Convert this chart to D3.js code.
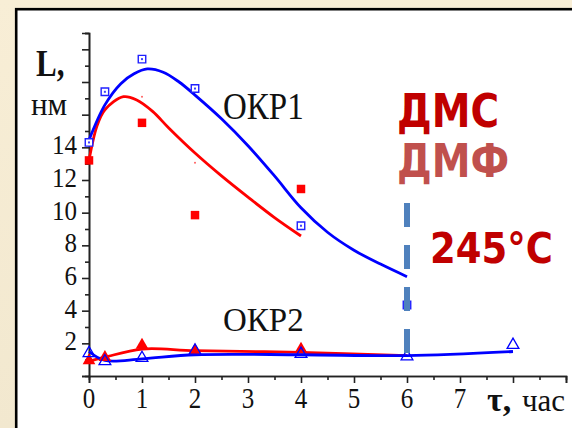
<!DOCTYPE html>
<html lang="ru">
<head>
<meta charset="utf-8">
<title>L(τ) ОКР1 / ОКР2</title>
<script src="https://cdn.jsdelivr.net/npm/d3@7"></script>
<style>
  body { margin: 0; background: #f6ecd3; }
  .axis path, .axis line { stroke: #222; stroke-width: 1.6; }
  .serif { font-family: "Liberation Serif", "Times New Roman", serif; fill: #111; }
  .sans { font-family: "DejaVu Sans", Verdana, sans-serif; font-weight: bold; }
</style>
</head>
<body>
<script>
// ---- data ----
// OKP1, blue open squares and fitted curve
var blueSqX = [0, 0.3, 1, 2, 4, 6];
var blueSqY = [14.3, 17.4, 19.4, 17.6, 9.2, 4.35];
var blueFitX = [0, 0.3, 0.6, 0.85, 1.1, 1.4, 1.7, 2, 2.5, 3, 3.5, 4, 4.5, 5, 5.5, 6];
var blueFitY = [14.45, 16.6, 17.9, 18.5, 18.8, 18.6, 18.0, 17.2, 15.75, 14.1, 12.25, 10.3, 8.8, 7.7, 6.85, 6.08];

// OKP1, red filled squares and fitted curve
var redSqX = [0, 1, 2, 4];
var redSqY = [13.2, 15.5, 9.85, 11.45];
var redDotX = [1, 2];
var redDotY = [17.1, 13.05];
var redFitX = [0, 0.15, 0.3, 0.65, 0.9, 1.2, 1.5, 2, 2.5, 3, 3.5, 4];
var redFitY = [13.2, 15.3, 16.3, 17.1, 16.9, 16.2, 15.2, 13.65, 12.25, 10.95, 9.7, 8.57];

// OKP2
var blueTriX = [0, 0.3, 1, 2, 4, 6, 8];
var blueTriY = [1.4, 0.9, 1.1, 1.55, 1.35, 1.2, 1.9];
var blueFit2Y = [1.5, 0.95, 1.05, 1.3, 1.3, 1.25, 1.5];
var redTriX = [0, 0.3, 1, 2, 4];
var redTriY = [0.95, 1.15, 1.9, 1.55, 1.65];
var redFit2X = [0, 0.3, 1, 2, 4, 6];
var redFit2Y = [0.9, 1.15, 1.65, 1.55, 1.45, 1.25];

var xTicks = [0, 1, 2, 3, 4, 5, 6, 7];
var yTicks = [2, 4, 6, 8, 10, 12, 14];
var markX = 6;

// ---- layout ----
var W = 572, H = 428;
var svg = d3.select("body").append("svg")
    .attr("width", W)
    .attr("height", H);

// cream backdrop and white panel
var grad = svg.append("defs").append("linearGradient")
    .attr("id", "bg").attr("x1", 0).attr("y1", 0).attr("x2", 0).attr("y2", 1);
grad.append("stop").attr("offset", "0%").attr("stop-color", "#f8eed6");
grad.append("stop").attr("offset", "100%").attr("stop-color", "#f2e8cf");
svg.append("rect").attr("width", W).attr("height", H).attr("fill", "url(#bg)");
svg.append("rect")
    .attr("x", 16.2).attr("y", 9.2)
    .attr("width", W).attr("height", H)
    .attr("fill", "white")
    .attr("stroke", "black")
    .attr("stroke-width", 2.6);

var xScale = d3.scaleLinear().domain([0, 9]).range([89, 566]);
var yScale = d3.scaleLinear().domain([0, 21]).range([376, 33]);

// axes: major ticks with labels drawn separately, minor ticks in between
var xAxis = d3.axisBottom(xScale).tickValues(d3.range(0, 10)).tickSize(7).tickFormat("");
var xMinor = d3.axisBottom(xScale).tickValues(d3.range(0.5, 9, 1)).tickSize(4).tickFormat("");
var yAxis = d3.axisLeft(yScale).tickValues(d3.range(0, 22, 2)).tickSize(7).tickFormat("");
var yMinor = d3.axisLeft(yScale).tickValues(d3.range(1, 22, 2)).tickSize(4).tickFormat("");

svg.append("g").attr("class", "axis").attr("transform", "translate(0,376)").call(xAxis);
svg.append("g").attr("class", "axis").attr("transform", "translate(0,376)").call(xMinor);
svg.append("g").attr("class", "axis").attr("transform", "translate(89,0)").call(yAxis);
svg.append("g").attr("class", "axis").attr("transform", "translate(89,0)").call(yMinor);
svg.selectAll(".axis .domain").attr("stroke-width", 2);

// text helper with a vertical stretch like the source picture
function label(x, y, str, size, sy, cls, anchor, fill, weight) {
    return svg.append("text")
        .attr("class", cls)
        .attr("transform", "translate(" + x + "," + y + ") scale(1," + sy + ")")
        .attr("font-size", size + "px")
        .attr("text-anchor", anchor || "start")
        .attr("font-weight", weight || null)
        .style("fill", fill || null)
        .text(str);
}

xTicks.forEach(function(t) {
    label(xScale(t), 408, t, 25, 1.18, "serif", "middle");
});
yTicks.forEach(function(t) {
    label(77, yScale(t) + 7, t, 25, 1.05, "serif", "end");
});

// fitted curves
var line = d3.line()
    .x(function(d) { return xScale(d[0]); })
    .y(function(d) { return yScale(d[1]); })
    .curve(d3.curveCatmullRom.alpha(0.5));

function zip(a, b) { return a.map(function(v, i) { return [v, b[i]]; }); }

svg.append("path").datum(zip(redFitX, redFitY))
    .attr("d", line).attr("fill", "none").attr("stroke", "#ff0000").attr("stroke-width", 2.8);
svg.append("path").datum(zip(blueFitX, blueFitY))
    .attr("d", line).attr("fill", "none").attr("stroke", "#0000ff").attr("stroke-width", 2.8);
svg.append("path").datum(zip(redFit2X, redFit2Y))
    .attr("d", line).attr("fill", "none").attr("stroke", "#ff0000").attr("stroke-width", 2.8);
svg.append("path").datum(zip(blueTriX, blueFit2Y))
    .attr("d", line).attr("fill", "none").attr("stroke", "#0000ff").attr("stroke-width", 2.8);

// markers
var sq = d3.symbol().type(d3.symbolSquare);
var tri = d3.symbol().type(d3.symbolTriangle);

svg.selectAll(".rsq").data(zip(redSqX, redSqY)).enter().append("path")
    .attr("transform", function(d) { return "translate(" + xScale(d[0]) + "," + yScale(d[1]) + ")"; })
    .attr("d", sq.size(72)).attr("fill", "#ff0000");
svg.selectAll(".rdot").data(zip(redDotX, redDotY)).enter().append("circle")
    .attr("cx", function(d) { return xScale(d[0]); })
    .attr("cy", function(d) { return yScale(d[1]); })
    .attr("r", 1).attr("fill", "#ff6060");
svg.selectAll(".bsq").data(zip(blueSqX, blueSqY)).enter().append("path")
    .attr("transform", function(d) { return "translate(" + xScale(d[0]) + "," + yScale(d[1]) + ")"; })
    .attr("d", sq.size(56)).attr("fill", "white").attr("stroke", "#2020ff").attr("stroke-width", 1.4);
svg.selectAll(".bsqc").data(zip(blueSqX, blueSqY)).enter().append("rect")
    .attr("x", function(d) { return xScale(d[0]) - 1; })
    .attr("y", function(d) { return yScale(d[1]) - 1; })
    .attr("width", 2).attr("height", 2).attr("fill", "#4040ff");
svg.selectAll(".rtri").data(zip(redTriX, redTriY)).enter().append("path")
    .attr("transform", function(d) { return "translate(" + xScale(d[0]) + "," + yScale(d[1]) + ")"; })
    .attr("d", tri.size(70)).attr("fill", "#ff0000");
svg.selectAll(".btri").data(zip(blueTriX, blueTriY)).enter().append("path")
    .attr("transform", function(d) { return "translate(" + xScale(d[0]) + "," + yScale(d[1]) + ")"; })
    .attr("d", tri.size(60)).attr("fill", "none").attr("stroke", "#0000ff").attr("stroke-width", 1.3);

// dashed marker at 6 h
svg.append("line")
    .attr("x1", xScale(markX)).attr("x2", xScale(markX))
    .attr("y1", 203).attr("y2", 360)
    .attr("stroke", "#4f81bd").attr("stroke-width", 6)
    .attr("stroke-dasharray", "24,18");

// titles
label(36, 76, "L,", 31, 1.22, "serif", "start", null, "bold");
label(31, 115, "нм", 31, 1.0, "serif");
label(223, 119, "ОКР1", 33, 1.18, "serif");
label(223, 331, "ОКР2", 33, 1.05, "serif");
label(487, 411, "τ,", 34, 1.0, "serif", "start", null, "bold");
label(522, 411, "час", 31, 1.0, "serif");

label(397, 127, "ДМС", 39, 1.2, "sans", "start", "#c00000");
label(397, 177, "ДМФ", 39, 1.2, "sans", "start", "#c0504d");
label(430, 263, "245°C", 37, 1.15, "sans", "start", "#c00000");
</script>
</body>
</html>
